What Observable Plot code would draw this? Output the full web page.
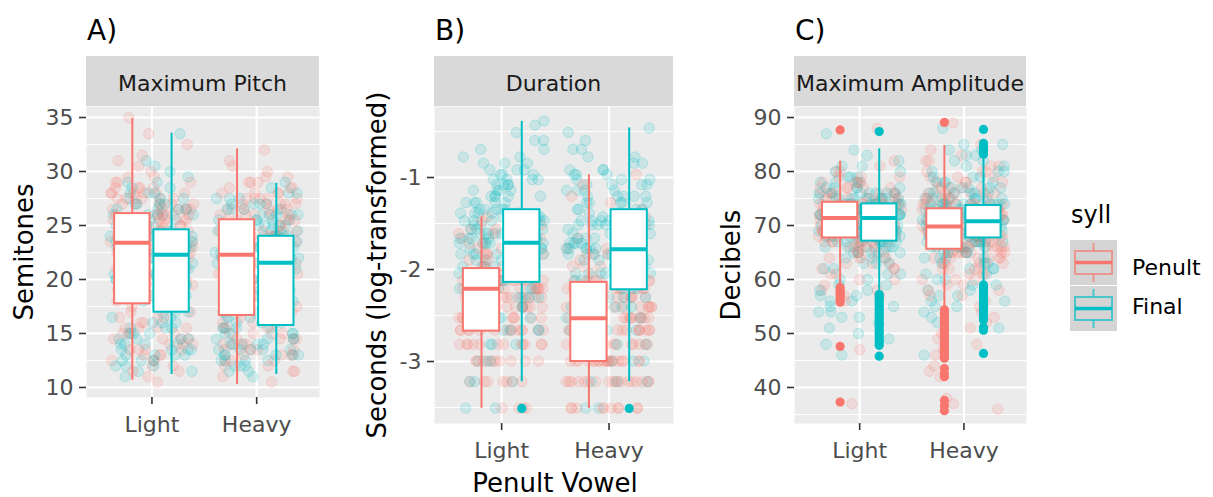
<!DOCTYPE html>
<html><head><meta charset="utf-8">
<script src="https://cdn.jsdelivr.net/npm/d3@7"></script>
<script src="https://cdn.jsdelivr.net/npm/@observablehq/plot@0.6"></script>
<style>
body{margin:0;background:#fff;}
#chart{position:relative;width:1213px;height:497px;font-family:"DejaVu Sans","Liberation Sans",sans-serif;overflow:hidden;background:#fff;}
.abs{position:absolute;white-space:nowrap;line-height:1;}
.tag{font-size:28px;color:#000;}
.strip{background:#D9D9D9;}
.striptext{font-size:22px;color:#1A1A1A;text-align:center;}
.ytitle{font-size:26px;color:#000;transform:translate(-50%,-50%) rotate(-90deg);}
.xtitle{font-size:26px;color:#000;transform:translateX(-50%);line-height:24px;}
.legtitle{font-size:24px;color:#000;}
.leglabel{font-size:22px;color:#000;}
</style></head><body><div id="chart"></div>
<script>
// ---------- text ----------
const categories = ["Light", "Heavy"];
const syll = ["Penult", "Final"];
const syllColors = ["#F8766D", "#00BFC4"];
const panelTitles = ["Maximum Pitch", "Duration", "Maximum Amplitude"];
const panelTags = ["A)", "B)", "C)"];
const yTitles = ["Semitones", "Seconds (log-transformed)", "Decibels"];
const xTitle = "Penult Vowel";
const legendTitle = "syll";

// ---------- tick values ----------
const pitchTicks = [10, 15, 20, 25, 30, 35];
const pitchMinor = [12.5, 17.5, 22.5, 27.5, 32.5];
const durTicks = [-3, -2, -1];
const durMinor = [-3.5, -2.5, -1.5, -0.5];
const ampTicks = [40, 50, 60, 70, 80, 90];
const ampMinor = [35, 45, 55, 65, 75, 85];

// ---------- boxplot statistics (order: Light/Penult, Light/Final, Heavy/Penult, Heavy/Final) ----------
const boxCategory = ["Light", "Light", "Heavy", "Heavy"];
const boxSyll = ["Penult", "Final", "Penult", "Final"];

const pitchLow    = [10.65, 11.2, 10.28, 11.2];
const pitchQ1     = [17.75, 16.97, 16.67, 15.74];
const pitchMedian = [23.4, 22.3, 22.3, 21.55];
const pitchQ3     = [26.1, 24.6, 25.53, 24.0];
const pitchHigh   = [34.9, 33.55, 32.1, 28.9];

const durLow    = [-3.51, -3.22, -3.51, -3.22];
const durQ1     = [-2.67, -2.14, -3.0, -2.22];
const durMedian = [-2.21, -1.71, -2.53, -1.78];
const durQ3     = [-1.99, -1.35, -2.14, -1.35];
const durHigh   = [-1.43, -0.39, -0.97, -0.46];

const ampLow    = [58.9, 57.5, 54.6, 59.2];
const ampQ1     = [67.7, 67.1, 65.6, 67.7];
const ampMedian = [71.4, 71.4, 69.8, 70.8];
const ampQ3     = [74.3, 74.0, 73.1, 73.7];
const ampHigh   = [81.9, 84.2, 84.8, 82.6];

// ---------- outliers ----------
const durOutLightFinal = [-3.51];
const durOutHeavyFinal = [-3.51];
const ampOutLightPenult = [87.7, 58.5, 58.1, 57.6, 57.2, 56.8, 56.3, 55.8, 47.6, 37.3];
const ampOutLightFinal = [87.4, 57.2, 56.7, 56.2, 55.7, 55.2, 54.7, 54.3, 53.7, 53.2, 52.8, 52.2, 51.7, 51.3, 50.7, 50.2, 49.8, 49.2, 48.7, 48.3, 47.8, 45.8];
const ampOutHeavyPenult = [89.1, 54.4, 53.9, 53.4, 52.9, 52.4, 51.9, 51.5, 50.9, 50.4, 49.9, 49.5, 48.9, 48.4, 47.9, 47.5, 46.9, 46.4, 45.9, 45.4, 43.5, 42.6, 42.0, 37.6, 36.6, 35.7];
const ampOutHeavyFinal = [87.8, 85.2, 84.7, 84.2, 83.7, 83.2, 59.0, 58.5, 58.0, 57.5, 57.0, 56.5, 56.0, 55.5, 55.0, 54.5, 54.0, 53.5, 53.0, 52.5, 51.1, 50.6, 46.3];

// ---------- raw observations as counts per value (jittered points) ----------
const pitchBins = [10.5,11,11.5,12,12.5,13,13.5,14,14.5,15,15.5,16,16.5,17,17.5,18,18.5,19,19.5,20,20.5,21,21.5,22,22.5,23,23.5,24,24.5,25,25.5,26,26.5,27,27.5,28,28.5,29,29.5,30,30.5,31,31.5,32,32.5,33,33.5,34,34.5,35];
const pitchLightPenult = [1,1,2,2,3,3,4,3,4,3, 4,2,3,2,3,2,2,2,2,2, 2,2,3,4,4,5,7,7,7,7, 7,7,6,6,6,6,4,3,2,1, 1,1,1,0,1,0,1,0,0,1];
const pitchLightFinal  = [0,1,2,3,3,4,4,4,4,4, 3,3,2,3,3,3,3,3,3,3, 4,4,4,5,7,8,8,8,7,6, 5,5,4,4,3,3,2,2,1,1, 1,1,0,0,0,0,1,0,0,0];
const pitchHeavyPenult = [1,1,2,2,3,4,4,4,4,4, 3,3,2,3,3,3,3,3,3,3, 4,4,4,5,5,5,6,6,5,5, 5,5,5,5,5,4,3,3,2,1, 1,1,0,1,0,0,0,0,0,0];
const pitchHeavyFinal  = [0,1,2,3,4,5,5,5,4,4, 4,3,3,3,3,3,3,3,3,3, 3,4,4,7,8,8,7,7,6,6, 5,5,4,4,3,2,1,1,0,0, 0,0,0,0,0,0,0,0,0,0];

const durSeconds = [0.03,0.04,0.05,0.06,0.07,0.08,0.09,0.10,0.11,0.12,0.13,0.14,0.15,0.16,0.17,0.18,0.19,0.20,0.21,0.22,0.23,0.24,0.25,0.26,0.28,0.30,0.32,0.34,0.36,0.38,0.40,0.43,0.46,0.50,0.55,0.60,0.63,0.65,0.68];
const durLightPenult = [4,7,10,12,14,14,14,14,14,11, 9,8,6,5,4,3,3,2,2,1, 1,1,0,0,0,0,0,0,0,0, 0,0,0,0,0,0,0,0,0];
const durLightFinal  = [2,3,3,3,4,4,4,5,5,6, 6,6,6,6,6,6,6,6,5,5, 5,5,5,5,5,5,4,4,4,3, 3,3,2,2,2,1,0,1,1];
const durHeavyPenult = [10,18,20,18,17,16,14,12,10,9, 7,6,5,4,3,3,2,2,0,2, 0,1,0,1,1,1,0,1,0,1, 0,0,0,0,0,0,0,0,0];
const durHeavyFinal  = [2,3,3,3,4,4,5,5,6,6, 6,6,6,6,6,6,5,5,5,5, 5,4,4,4,5,5,4,4,3,3, 3,2,2,2,1,1,1,0,0];

const ampBins = [35,36,37,38,39,40,41,42,43,44,45,46,47,48,49,50,51,52,53,54,55,56,57,58,59,60,61,62,63,64,65,66,67,68,69,70,71,72,73,74,75,76,77,78,79,80,81,82,83,84,85,86,87,88,89];
const ampLightPenult = [0,0,1,0,0,0,0,0,0,0, 0,0,1,0,0,0,0,0,0,0, 0,1,2,2,1,2,2,3,3,4, 5,6,8,10,12,13,14,14,13,11, 9,7,5,4,3,2,1,1,0,0, 0,0,0,1,0];
const ampLightFinal  = [0,0,0,0,0,0,0,0,0,0, 0,1,0,1,1,1,1,1,2,2, 2,2,2,2,2,2,2,2,3,3, 5,6,9,11,13,14,15,15,14,12, 9,7,5,4,3,2,2,1,1,1, 0,0,1,0,0];
const ampHeavyPenult = [0,1,1,1,0,0,0,1,1,1, 0,1,1,1,1,1,1,1,1,1, 1,1,2,2,2,3,3,4,5,6, 9,10,11,12,13,13,13,12,11,9, 7,6,5,4,3,3,2,2,1,1, 1,0,0,0,1];
const ampHeavyFinal  = [0,0,0,0,0,0,0,0,0,0, 0,1,0,0,0,0,1,1,1,1, 2,2,2,2,2,2,2,3,3,4, 5,7,9,11,13,14,15,14,13,11, 8,6,5,4,3,3,2,2,2,2, 2,0,0,1,0];

// ---------- helpers ----------
const FONT = '"DejaVu Sans","Liberation Sans",sans-serif';
const xDomain = [0.375, 2.6];
const dodgeWidth = 0.75, boxPad = 0.9, jitterWidth = 0.4;
const catPos = c => categories.indexOf(c) + 1;
const dodge = s => (syll.indexOf(s) - 0.5) * dodgeWidth / 2;
const boxHalf = dodgeWidth / 2 * boxPad / 2;
const bx = d => catPos(d.cat) + dodge(d.syll);

function boxRows(low, q1, med, q3, high) {
  return boxCategory.map((c, i) => ({cat: c, syll: boxSyll[i], low: low[i], q1: q1[i], median: med[i], q3: q3[i], high: high[i]}));
}
function outRows(groups) {
  const out = [];
  for (const [cat, s, vals] of groups) for (const v of vals) out.push({cat, syll: s, y: v});
  return out;
}
// deterministic jitter (position adjustment, like geom_jitter)
function hash(k) { const s = Math.sin(k * 12.9898 + 78.233) * 43758.5453; return s - Math.floor(s); }
function jitterRows(bins, groups, seed, toY = v => v) {
  const pts = []; let k = seed;
  for (const [cat, s, counts] of groups) {
    counts.forEach((n, i) => {
      for (let j = 0; j < n; j++) {
        k++;
        pts.push({x: catPos(cat) + (hash(k) - 0.5) * 2 * jitterWidth, y: toY(bins[i]), syll: s, ord: hash(k * 3.17 + 991)});
      }
    });
  }
  return pts.sort((a, b) => a.ord - b.ord);
}

const pitchPts = jitterRows(pitchBins, [["Light","Penult",pitchLightPenult],["Light","Final",pitchLightFinal],["Heavy","Penult",pitchHeavyPenult],["Heavy","Final",pitchHeavyFinal]], 1);
const durPts = jitterRows(durSeconds, [["Light","Penult",durLightPenult],["Light","Final",durLightFinal],["Heavy","Penult",durHeavyPenult],["Heavy","Final",durHeavyFinal]], 5001, Math.log);
const ampPts = jitterRows(ampBins, [["Light","Penult",ampLightPenult],["Light","Final",ampLightFinal],["Heavy","Penult",ampHeavyPenult],["Heavy","Final",ampHeavyFinal]], 9001);

const panels = [
  {left: 0, width: 319, marginLeft: 86, panelBottom: 397, yDomain: [9.07, 36.02], ticks: pitchTicks, minor: pitchMinor,
   boxes: boxRows(pitchLow, pitchQ1, pitchMedian, pitchQ3, pitchHigh), points: pitchPts, outliers: []},
  {left: 380, width: 293, marginLeft: 54, panelBottom: 423, yDomain: [-3.674, -0.228], ticks: durTicks, minor: durMinor,
   boxes: boxRows(durLow, durQ1, durMedian, durQ3, durHigh), points: durPts,
   outliers: outRows([["Light","Final",durOutLightFinal],["Heavy","Final",durOutHeavyFinal]])},
  {left: 740, width: 286, marginLeft: 54, panelBottom: 423, yDomain: [33.33, 92.04], ticks: ampTicks, minor: ampMinor,
   boxes: boxRows(ampLow, ampQ1, ampMedian, ampQ3, ampHigh), points: ampPts,
   outliers: outRows([["Light","Penult",ampOutLightPenult],["Light","Final",ampOutLightFinal],["Heavy","Penult",ampOutHeavyPenult],["Heavy","Final",ampOutHeavyFinal]])}
];

const chart = document.getElementById("chart");

panels.forEach((o, pi) => {
  const svg = Plot.plot({
    width: o.width, height: 497,
    marginTop: 106, marginBottom: 497 - o.panelBottom, marginLeft: o.marginLeft, marginRight: 0,
    x: {domain: xDomain},
    y: {domain: o.yDomain},
    color: {domain: syll, range: syllColors},
    style: {position: "absolute", left: o.left + "px", top: "0px", background: "transparent", fontFamily: FONT, fontSize: "22px", overflow: "visible", maxWidth: "none"},
    marks: [
      Plot.frame({fill: "#EBEBEB", stroke: "none"}),
      Plot.ruleY(o.minor, {stroke: "#fff", strokeWidth: 1.1}),
      Plot.ruleY(o.ticks, {stroke: "#fff", strokeWidth: 2.2}),
      Plot.ruleX(categories, {x: catPos, stroke: "#fff", strokeWidth: 2.2}),
      Plot.dot(o.points, {x: "x", y: "y", r: 5.2, fill: "syll", stroke: "syll", fillOpacity: 0.15, strokeOpacity: 0.2, strokeWidth: 1}),
      Plot.ruleX(o.boxes, {x: bx, y1: "low", y2: "q1", stroke: "syll", strokeWidth: 2}),
      Plot.ruleX(o.boxes, {x: bx, y1: "q3", y2: "high", stroke: "syll", strokeWidth: 2}),
      Plot.rect(o.boxes, {x1: d => bx(d) - boxHalf, x2: d => bx(d) + boxHalf, y1: "q1", y2: "q3", fill: "white", stroke: "syll", strokeWidth: 2}),
      Plot.ruleY(o.boxes, {x1: d => bx(d) - boxHalf, x2: d => bx(d) + boxHalf, y: "median", stroke: "syll", strokeWidth: 4}),
      Plot.dot(o.outliers, {x: bx, y: "y", r: 4.6, fill: "syll", stroke: "none"}),
      Plot.axisY({ticks: o.ticks, tickSize: 7, tickPadding: 6, tickFormat: d => String(d), fontSize: 22, fill: "#4D4D4D", stroke: "#333", strokeWidth: 1.6, label: null}),
      Plot.axisX({ticks: [1, 2], tickSize: 7, tickPadding: 12, tickFormat: d => categories[d - 1], fontSize: 22, fill: "#4D4D4D", stroke: "#333", strokeWidth: 1.6, label: null})
    ]
  });
  chart.appendChild(svg);
});

// ---------- html text: tags, strips, axis titles ----------
function addDiv(cls, text, css) {
  const d = document.createElement("div");
  d.className = "abs " + cls;
  d.textContent = text;
  Object.assign(d.style, css);
  chart.appendChild(d);
  return d;
}
const panelBox = [[86, 319], [434, 673], [794, 1026]];
const panelMid = [251.5, 264.5, 264.5];
const yTitleX = [23.5, 376.5, 731];
panelBox.forEach(([l, r], i) => {
  addDiv("strip", "", {left: l + "px", top: "56px", width: (r - l) + "px", height: "50px"});
  addDiv("striptext", panelTitles[i], {left: l + "px", top: "73.4px", width: (r - l) + "px"});
  addDiv("tag", panelTags[i], {left: (l + 1) + "px", top: "16.5px"});
  addDiv("ytitle", yTitles[i], {left: yTitleX[i] + "px", top: panelMid[i] + "px"});
});
addDiv("xtitle", xTitle, {left: "555px", top: "471px"});

// ---------- legend ----------
addDiv("legtitle", legendTitle, {left: "1071px", top: "202.7px"});
const leg = d3.select(chart).append("svg")
  .attr("width", 70).attr("height", 110)
  .style("position", "absolute").style("left", "1060px").style("top", "230px");
const keys = leg.selectAll("g").data(syll).join("g")
  .attr("transform", (d, i) => `translate(10,${10 + i * 46})`);
keys.append("rect").attr("width", 47).attr("height", 45).attr("fill", "#D4D4D4");
keys.append("line").attr("x1", 23.5).attr("x2", 23.5).attr("y1", 3).attr("y2", 42)
  .attr("stroke", (d, i) => syllColors[i]).attr("stroke-opacity", 0.65).attr("stroke-width", 2);
keys.append("rect").attr("x", 5).attr("y", 11).attr("width", 37).attr("height", 23)
  .attr("fill", "#D4D4D4").attr("stroke", (d, i) => syllColors[i]).attr("stroke-opacity", 0.65).attr("stroke-width", 2);
keys.append("line").attr("x1", 5).attr("x2", 42).attr("y1", 22.5).attr("y2", 22.5)
  .attr("stroke", (d, i) => syllColors[i]).attr("stroke-width", 3.5);
syll.forEach((s, i) => addDiv("leglabel", s, {left: "1132px", top: (257.4 + i * 39) + "px"}));
</script></body></html>
